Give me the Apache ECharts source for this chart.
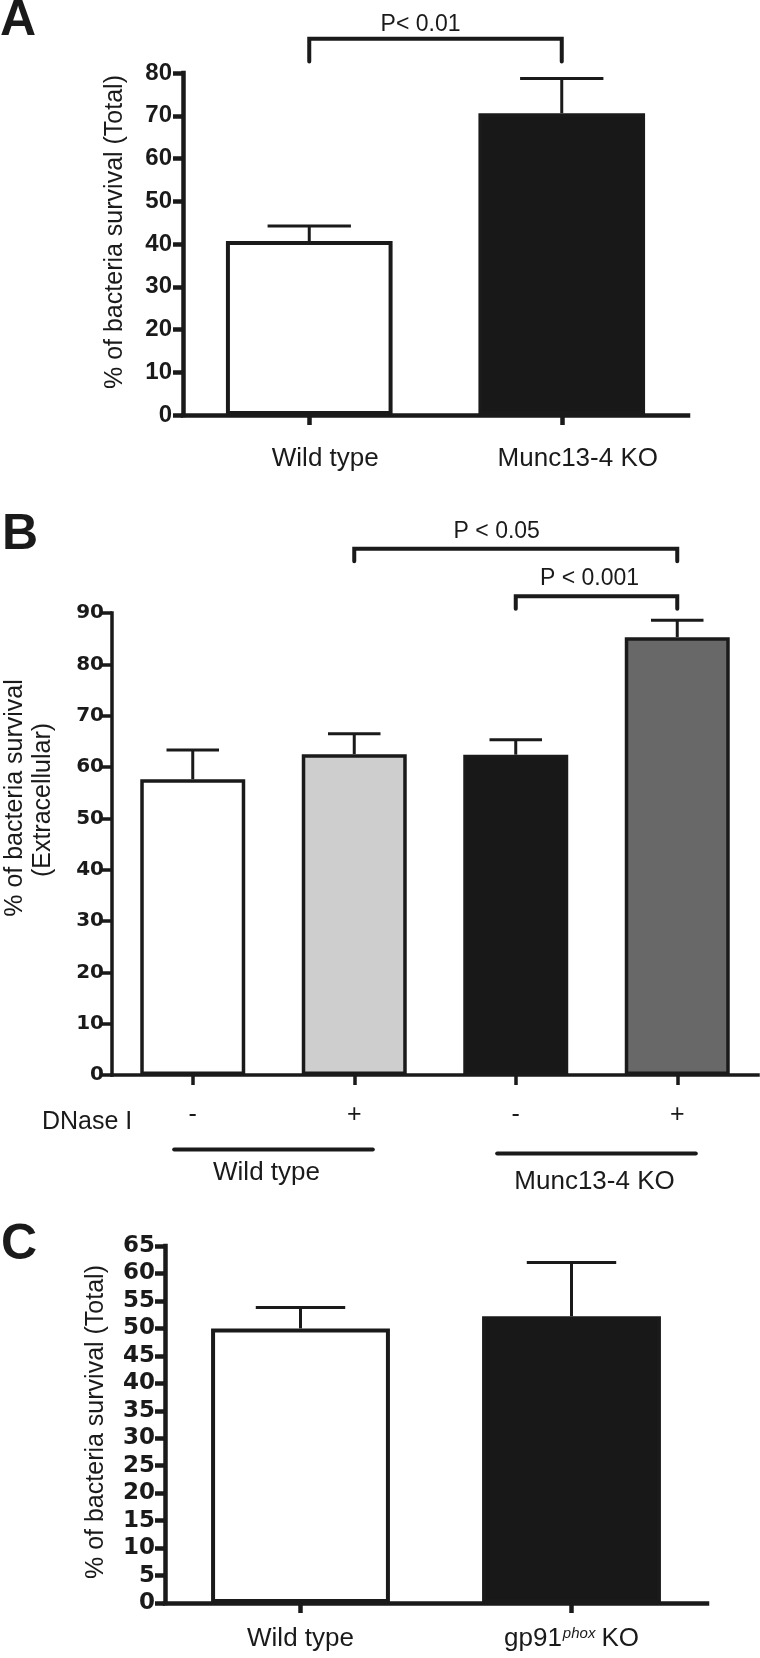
<!DOCTYPE html>
<html>
<head>
<meta charset="utf-8">
<script src="https://cdn.jsdelivr.net/npm/echarts@6/dist/echarts.min.js"></script>
<style>
html,body{margin:0;padding:0;background:#ffffff;}
#chart{width:760px;height:1658px;}
</style>
</head>
<body>
<div id="chart"></div>
<script>
// ---------- DATA ----------
// Panel A
const catsA = ['Wild type', 'Munc13-4 KO'];
const meanA = [40.7, 70.6];
const semA = [3.5, 8.1];
const yTicksA = [0, 10, 20, 30, 40, 50, 60, 70, 80];
const titleA = '% of bacteria survival (Total)';
const sigA = [{ from: 0, to: 1, label: 'P< 0.01' }];

// Panel B
const catsB = ['-', '+', '-', '+'];
const meanB = [57.6, 62.5, 62.4, 85.3];
const semB = [5.7, 4.0, 2.9, 3.3];
const yTicksB = [0, 10, 20, 30, 40, 50, 60, 70, 80, 90];
const titleB = ['% of bacteria survival', '(Extracellular)'];
const groupsB = [{ from: 0, to: 1, label: 'Wild type' }, { from: 2, to: 3, label: 'Munc13-4 KO' }];
const rowLabelB = 'DNase I';
const sigB = [{ from: 1, to: 3, label: 'P < 0.05' }, { from: 2, to: 3, label: 'P < 0.001' }];

// Panel C
const catsC = ['Wild type', 'gp91phox KO'];
const meanC = [50.0, 52.2];
const semC = [3.8, 9.8];
const yTicksC = [0, 5, 10, 15, 20, 25, 30, 35, 40, 45, 50, 55, 60, 65];
const titleC = '% of bacteria survival (Total)';

// ---------- STYLE / LAYOUT ----------
const INK = '#1a1a1a';
const colorsA = ['#ffffff', '#181818'];
const colorsB = ['#ffffff', '#cecece', '#181818', '#686868'];
const colorsC = ['#ffffff', '#181818'];
const SANS = '"Liberation Sans", Arial, sans-serif';
const WIDE = '"DejaVu Sans", sans-serif';

const sigLayoutA = [{ line: 88.0, drop: 82.7, text: 91.3, dx: -15 }];
const sigLayoutB = [
  { line: 102.5, drop: 100.1, text: 105.8, dx: -19 },
  { line: 93.25, drop: 90.85, text: 96.7, dx: -7 }
];
const groupLayoutB = [
  { line: -14.5, text: -19.1, dx: -7 },
  { line: -15.3, text: -20.8, dx: -2 }
];

const grids = [
  { left: 183, right: 72, top: 73, height: 342 },
  { left: 112, right: 2, top: 613, height: 462 },
  { left: 165, right: 53, top: 1246, height: 357 }
];
const barFrac = [0.66, 0.65, 0.66];
const axisW = [4.5, 3.5, 4.5];

function xAxisOf(i, cats, label) {
  return {
    type: 'category', gridIndex: i, data: cats, boundaryGap: true,
    axisLine: { show: true, lineStyle: { color: INK, width: axisW[i], cap: 'square' } },
    axisTick: { show: true, alignWithLabel: true, length: 10, lineStyle: { color: INK, width: axisW[i] } },
    axisLabel: Object.assign({ color: INK, interval: 0 }, label),
    splitLine: { show: false }
  };
}

function yAxisOf(i, ticks, font, fontSize, margin) {
  return {
    type: 'value', gridIndex: i,
    min: ticks[0], max: ticks[ticks.length - 1], interval: ticks[1] - ticks[0],
    axisLine: { show: true, lineStyle: { color: INK, width: axisW[i], cap: 'square' } },
    axisTick: { show: true, length: 10, lineStyle: { color: INK, width: axisW[i] } },
    axisLabel: { color: INK, fontFamily: font, fontWeight: 'bold', fontSize: fontSize, margin: margin },
    splitLine: { show: false }
  };
}

function barSeries(i, means, colors, bw) {
  return {
    type: 'bar', xAxisIndex: i, yAxisIndex: i, barWidth: (bw * 100) + '%',
    data: means.map((v, k) => ({
      value: v,
      itemStyle: { color: colors[k], borderColor: INK, borderWidth: i === 1 ? 3.5 : 4 }
    })),
    z: 3
  };
}

function errorSeries(i, means, sems, bw, lw) {
  return {
    type: 'custom', xAxisIndex: i, yAxisIndex: i, z: 4,
    encode: { x: 0, y: [1, 2] },
    data: means.map((m, k) => [k, m, m + sems[k]]),
    renderItem: function (params, api) {
      const x = api.value(0);
      const p0 = api.coord([x, api.value(1)]);
      const p1 = api.coord([x, api.value(2)]);
      const half = api.size([1, 0])[0] * bw / 4;
      return {
        type: 'group', children: [
          { type: 'line', shape: { x1: p0[0], y1: p0[1], x2: p1[0], y2: p1[1] }, style: { stroke: INK, lineWidth: lw } },
          { type: 'line', shape: { x1: p1[0] - half, y1: p1[1], x2: p1[0] + half, y2: p1[1] }, style: { stroke: INK, lineWidth: lw } }
        ]
      };
    }
  };
}

function bracketSeries(i, sigs, layout) {
  return {
    type: 'custom', xAxisIndex: i, yAxisIndex: i, z: 6, clip: false,
    encode: { x: 0, y: 2 },
    data: sigs.map((s, k) => [s.from, s.to, layout[k].line, layout[k].drop, layout[k].text]),
    renderItem: function (params, api) {
      const k = params.dataIndex;
      const a = api.coord([api.value(0), api.value(2)]);
      const b = api.coord([api.value(1), api.value(2)]);
      const yd = api.coord([api.value(0), api.value(3)])[1];
      const yt = api.coord([api.value(0), api.value(4)])[1];
      return {
        type: 'group', children: [
          { type: 'polyline', shape: { points: [[a[0], yd], [a[0], a[1]], [b[0], b[1]], [b[0], yd]] },
            style: { stroke: INK, fill: null, lineWidth: 4, lineJoin: 'miter', lineCap: 'round' } },
          { type: 'text', style: { text: sigs[k].label, x: (a[0] + b[0]) / 2 + layout[k].dx, y: yt,
            align: 'center', verticalAlign: 'middle', fill: INK, font: '23px ' + SANS } }
        ]
      };
    }
  };
}

function groupSeries(i, groups, layout) {
  return {
    type: 'custom', xAxisIndex: i, yAxisIndex: i, z: 6, clip: false,
    encode: { x: 0, y: 2 },
    data: groups.map((g, k) => [g.from, g.to, layout[k].line, layout[k].text]),
    renderItem: function (params, api) {
      const k = params.dataIndex;
      const a = api.coord([api.value(0), api.value(2)]);
      const b = api.coord([api.value(1), api.value(2)]);
      const yt = api.coord([api.value(0), api.value(3)])[1];
      const ext = api.size([1, 0])[0] * 0.115;
      return {
        type: 'group', children: [
          { type: 'line', shape: { x1: a[0] - ext, y1: a[1], x2: b[0] + ext, y2: b[1] },
            style: { stroke: INK, lineWidth: 4, lineCap: 'round' } },
          { type: 'text', style: { text: groups[k].label, x: (a[0] + b[0]) / 2 + layout[k].dx, y: yt,
            align: 'center', verticalAlign: 'middle', fill: INK, font: '26px ' + SANS } }
        ]
      };
    }
  };
}

function vText(text, x, y) {
  return { type: 'text', x: x, y: y, rotation: Math.PI / 2,
    style: { text: text, font: '25px ' + SANS, fill: INK, align: 'center', verticalAlign: 'middle' } };
}

const graphics = [
  { type: 'text', x: 0, y: 21, style: { text: 'A', font: 'bold 50px ' + SANS, fill: INK, verticalAlign: 'middle' } },
  { type: 'text', x: 2, y: 535, style: { text: 'B', font: 'bold 50px ' + SANS, fill: INK, verticalAlign: 'middle' } },
  { type: 'text', x: 1, y: 1245, style: { text: 'C', font: 'bold 50px ' + SANS, fill: INK, verticalAlign: 'middle' } },
  { type: 'text', x: 42, y: 1122, style: { text: rowLabelB, font: '25px ' + SANS, fill: INK, verticalAlign: 'middle' } },
  vText(titleA, 115, 232),
  vText(titleB[0], 15, 798),
  vText(titleB[1], 43, 800),
  vText(titleC, 96, 1422)
];

const chart = echarts.init(document.getElementById('chart'), null, { renderer: 'canvas' });

const option = {
  animation: false,
  backgroundColor: '#ffffff',
  grid: grids.map(g => Object.assign({ containLabel: false }, g)),
  xAxis: [
    xAxisOf(0, catsA, {
      margin: 31,
      formatter: function (v) { return '{n|' + v + '}'; },
      rich: { n: { fontFamily: SANS, fontSize: 26, color: INK, padding: [0, 0, 0, 32] } }
    }),
    xAxisOf(1, catsB, { fontFamily: SANS, fontSize: 25, margin: 28 }),
    xAxisOf(2, catsC, {
      margin: 23,
      formatter: function (v) {
        return v.indexOf('phox') >= 0 ? '{n|gp91}{s|phox}{n|KO}' : '{n|' + v + '}';
      },
      rich: {
        n: { fontFamily: SANS, fontSize: 26, color: INK },
        s: { fontFamily: SANS, fontSize: 15, fontStyle: 'italic', color: INK, verticalAlign: 'top', padding: [0, 6, 0, 1] }
      }
    })
  ],
  yAxis: [
    yAxisOf(0, yTicksA, SANS, 24, 11),
    yAxisOf(1, yTicksB, WIDE, 20, 8),
    yAxisOf(2, yTicksC, WIDE, 23, 10)
  ],
  graphic: graphics,
  series: [
    barSeries(0, meanA, colorsA, barFrac[0]),
    errorSeries(0, meanA, semA, barFrac[0], 3),
    bracketSeries(0, sigA, sigLayoutA),
    barSeries(1, meanB, colorsB, barFrac[1]),
    errorSeries(1, meanB, semB, barFrac[1], 3),
    bracketSeries(1, sigB, sigLayoutB),
    groupSeries(1, groupsB, groupLayoutB),
    barSeries(2, meanC, colorsC, barFrac[2]),
    errorSeries(2, meanC, semC, barFrac[2], 3)
  ]
};

chart.setOption(option);
</script>
</body>
</html>
